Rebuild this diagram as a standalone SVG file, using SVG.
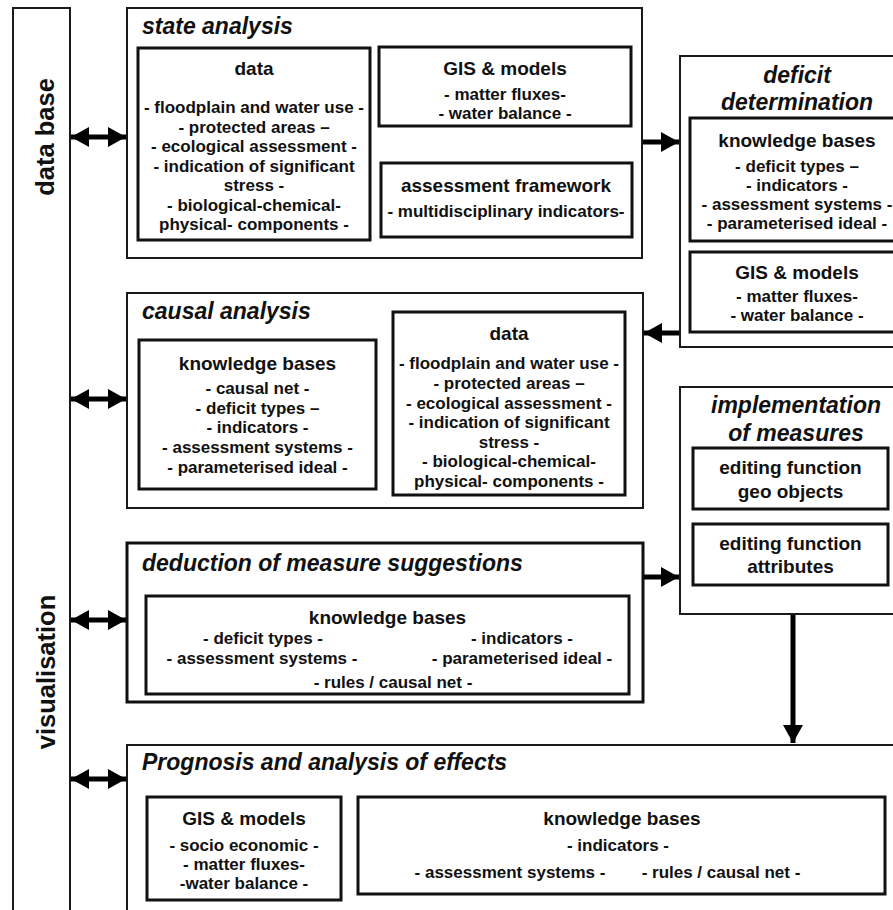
<svg xmlns="http://www.w3.org/2000/svg" width="893" height="910" viewBox="0 0 893 910">
  <style>
    text { font-family: "Liberation Sans", Arial, Helvetica, sans-serif; font-weight: bold; fill: #111; }
    .outer { fill: #fff; stroke: #1a1a1a; stroke-width: 2; }
    .heavy { fill: #fff; stroke: #111; stroke-width: 3; }
    .inner { fill: #fff; stroke: #111; stroke-width: 3; }
    .title { font-size: 23px; font-style: italic; }
    .side { font-size: 25.5px; }
    .hd { font-size: 19px; text-anchor: middle; }
    .it { font-size: 17px; text-anchor: middle; }
    .mid { text-anchor: middle; }
    .conn { stroke: #000; stroke-width: 5; fill: none; }
  </style>
  <defs>
    <marker id="head" markerUnits="userSpaceOnUse" markerWidth="18" markerHeight="20" refX="18" refY="10" orient="auto-start-reverse">
      <path d="M0,0 L18,10 L0,20 Z" fill="#000"/>
    </marker>
  </defs>
  <rect width="893" height="910" fill="#fff"/>

  <!-- side column: data base / visualisation -->
  <g id="side-column">
    <rect class="outer" x="13" y="8" width="57" height="930"/>
    <text class="side mid" transform="translate(54,137) rotate(-90)">data base</text>
    <text class="side mid" transform="translate(55,672) rotate(-90)">visualisation</text>
  </g>

  <!-- state analysis -->
  <g id="state-analysis">
    <rect class="outer" x="127" y="8" width="515" height="250"/>
    <text class="title" x="142" y="34">state analysis</text>
    <rect class="inner" x="138" y="48" width="232" height="192"/>
    <text class="hd" x="254" y="75">data</text>
    <text class="it" x="254" y="113">- floodplain and water use -</text>
    <text class="it" x="254" y="132.5">- protected areas –</text>
    <text class="it" x="254" y="152">- ecological assessment -</text>
    <text class="it" x="254" y="171.5">- indication of significant</text>
    <text class="it" x="254" y="191">stress -</text>
    <text class="it" x="254" y="210.5">- biological-chemical-</text>
    <text class="it" x="254" y="230">physical- components -</text>
    <rect class="inner" x="379" y="47" width="252" height="79"/>
    <text class="hd" x="505" y="75">GIS &amp; models</text>
    <text class="it" x="505" y="100">- matter fluxes-</text>
    <text class="it" x="505" y="119">- water balance -</text>
    <rect class="inner" x="381" y="163" width="251" height="74"/>
    <text class="hd" x="506" y="192">assessment framework</text>
    <text class="it" x="506" y="217">- multidisciplinary indicators-</text>
  </g>

  <!-- deficit determination -->
  <g id="deficit-determination">
    <rect class="outer" x="680" y="56" width="240" height="291"/>
    <text class="title mid" x="797" y="83">deficit</text>
    <text class="title mid" x="797" y="110">determination</text>
    <rect class="inner" x="690" y="118" width="220" height="123"/>
    <text class="hd" x="797" y="147">knowledge bases</text>
    <text class="it" x="797" y="172">- deficit types –</text>
    <text class="it" x="797" y="191">- indicators -</text>
    <text class="it" x="797" y="210">- assessment systems -</text>
    <text class="it" x="797" y="229">- parameterised ideal -</text>
    <rect class="inner" x="690" y="252" width="220" height="80"/>
    <text class="hd" x="797" y="279">GIS &amp; models</text>
    <text class="it" x="797" y="302">- matter fluxes-</text>
    <text class="it" x="797" y="321">- water balance -</text>
  </g>

  <!-- causal analysis -->
  <g id="causal-analysis">
    <rect class="outer" x="127" y="293" width="516" height="215"/>
    <text class="title" x="142" y="319">causal analysis</text>
    <rect class="inner" x="139" y="340" width="237" height="149"/>
    <text class="hd" x="257.5" y="370">knowledge bases</text>
    <text class="it" x="257.5" y="394">- causal net -</text>
    <text class="it" x="257.5" y="414">- deficit types –</text>
    <text class="it" x="257.5" y="433">- indicators -</text>
    <text class="it" x="257.5" y="453">- assessment systems -</text>
    <text class="it" x="257.5" y="473">- parameterised ideal -</text>
    <rect class="inner" x="393" y="312" width="232" height="183"/>
    <text class="hd" x="509" y="340">data</text>
    <text class="it" x="509" y="369">- floodplain and water use -</text>
    <text class="it" x="509" y="389">- protected areas –</text>
    <text class="it" x="509" y="409">- ecological assessment -</text>
    <text class="it" x="509" y="428">- indication of significant</text>
    <text class="it" x="509" y="448">stress -</text>
    <text class="it" x="509" y="467">- biological-chemical-</text>
    <text class="it" x="509" y="487">physical- components -</text>
  </g>

  <!-- implementation of measures -->
  <g id="implementation-of-measures">
    <rect class="outer" x="680" y="387" width="240" height="227"/>
    <text class="title mid" x="796" y="413">implementation</text>
    <text class="title mid" x="796" y="441">of measures</text>
    <rect class="inner" x="693" y="448" width="195" height="61"/>
    <text class="hd" x="790.5" y="474">editing function</text>
    <text class="hd" x="790.5" y="498">geo objects</text>
    <rect class="inner" x="693" y="524" width="195" height="61"/>
    <text class="hd" x="790.5" y="550">editing function</text>
    <text class="hd" x="790.5" y="573">attributes</text>
  </g>

  <!-- deduction of measure suggestions -->
  <g id="deduction-of-measure-suggestions">
    <rect class="heavy" x="127" y="543" width="516" height="159"/>
    <text class="title" x="142" y="571">deduction of measure suggestions</text>
    <rect class="inner" x="146" y="596" width="483" height="98"/>
    <text class="hd" x="387.5" y="624">knowledge bases</text>
    <text class="it" x="263" y="644">- deficit types -</text>
    <text class="it" x="522" y="644">- indicators -</text>
    <text class="it" x="262" y="664">- assessment systems -</text>
    <text class="it" x="522" y="664">- parameterised ideal -</text>
    <text class="it" x="393" y="688">- rules / causal net -</text>
  </g>

  <!-- prognosis and analysis of effects -->
  <g id="prognosis-and-analysis">
    <rect class="outer" x="127" y="745" width="800" height="200"/>
    <text class="title" x="142" y="770">Prognosis and analysis of effects</text>
    <rect class="inner" x="147" y="797" width="194" height="103"/>
    <text class="hd" x="244" y="825">GIS &amp; models</text>
    <text class="it" x="244" y="851">- socio economic -</text>
    <text class="it" x="244" y="870">- matter fluxes-</text>
    <text class="it" x="244" y="889">-water balance -</text>
    <rect class="inner" x="358" y="797" width="527" height="97"/>
    <text class="hd" x="622" y="825">knowledge bases</text>
    <text class="it" x="618" y="851">- indicators -</text>
    <text class="it" x="510" y="878">- assessment systems -</text>
    <text class="it" x="721" y="878">- rules / causal net -</text>
  </g>

  <!-- connectors -->
  <g id="connectors">
    <line class="conn" x1="71" y1="137" x2="126" y2="137" marker-start="url(#head)" marker-end="url(#head)"/>
    <line class="conn" x1="71" y1="399" x2="126" y2="399" marker-start="url(#head)" marker-end="url(#head)"/>
    <line class="conn" x1="71" y1="620" x2="126" y2="620" marker-start="url(#head)" marker-end="url(#head)"/>
    <line class="conn" x1="71" y1="779" x2="126" y2="779" marker-start="url(#head)" marker-end="url(#head)"/>
    <line class="conn" x1="643" y1="142" x2="679" y2="142" marker-end="url(#head)"/>
    <line class="conn" x1="679" y1="333" x2="644" y2="333" marker-end="url(#head)"/>
    <line class="conn" x1="644" y1="577" x2="679" y2="577" marker-end="url(#head)"/>
    <line class="conn" x1="793" y1="615" x2="793" y2="743" marker-end="url(#head)"/>
  </g>
</svg>
